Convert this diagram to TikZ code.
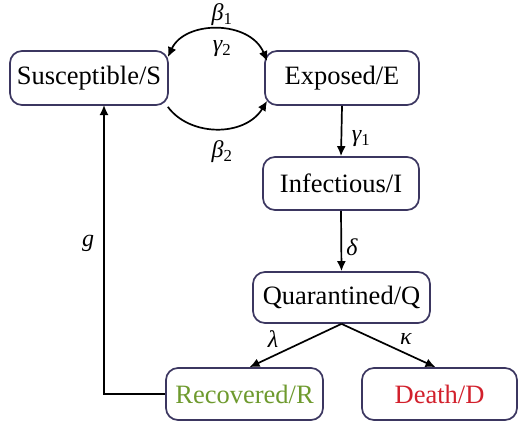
\documentclass[tikz,border=0pt]{standalone}
\usepackage{fontspec}
\setmainfont{Liberation Serif}
\usetikzlibrary{arrows.meta,calc}
\definecolor{boxline}{HTML}{3B3660}
\definecolor{recgreen}{HTML}{6E9A2E}
\definecolor{deathred}{HTML}{D2202C}
\newcommand{\gsym}[2]{{\itshape #1}\textsubscript{\upshape #2}}
\begin{document}
\begin{tikzpicture}[x=1pt,y=-1pt,
  compbox/.style={draw=boxline,line width=1.7pt,rounded corners=12pt,inner sep=0pt,font=\fontsize{26.5}{29}\selectfont},
  flow/.style={line width=1.7pt,-{Latex[length=10pt,width=9pt]}},
  lab/.style={font=\fontsize{24}{26}\selectfont\itshape,inner sep=0pt}]
\useasboundingbox (0,0) rectangle (518,428);
\node[compbox,minimum width=158pt,minimum height=54pt] (S) at (89,78) {Susceptible/S};
\node[compbox,minimum width=154pt,minimum height=54pt] (E) at (342,78) {Exposed/E};
\node[compbox,minimum width=156pt,minimum height=53pt] (I) at (341,183.5) {Infectious/I};
\node[compbox,minimum width=177pt,minimum height=51pt] (Q) at (341.5,297.5) {Quarantined/Q};
\node[compbox,minimum width=157pt,minimum height=52pt,text=recgreen] (R) at (244.5,394) {Recovered/R};
\node[compbox,minimum width=155pt,minimum height=52pt,text=deathred] (D) at (439.5,394) {Death/D};
% arcs between S and E
\coordinate (s1) at ($(S.north east)+(-1,7)$);
\coordinate (e1) at ($(E.north west)+(3,11)$);
\coordinate (s2) at ($(S.south east)+(-1,1)$);
\coordinate (e2) at ($(E.south west)+(3,-5)$);
\draw[line width=1.7pt,{Latex[length=10pt,width=9pt]}-{Latex[length=10pt,width=9pt]}] (s1) .. controls (185,20) and (250,20) .. (e1);
\draw[flow] (s2) .. controls (190,137) and (245,137) .. (e2);
\node[lab] (b1) at (222,15) {\gsym{β}{1}};
\node[lab] (g2) at (222,49) {\gsym{γ}{2}};
\node[lab] (b2) at (222,152) {\gsym{β}{2}};
% vertical flows
\draw[flow] (E.south) -- (I.north);
\node[lab] (g1) at (361,139) {\gsym{γ}{1}};
\draw[flow] (I.south) -- (Q.north);
\node[lab] (dl) at (352,247) {δ};
% branch
\coordinate (R1) at ($(R.north)+(5,0)$);
\coordinate (D1) at ($(D.north)+(-4,0)$);
\draw[flow] (Q.south) -- (R1);
\draw[flow] (Q.south) -- (D1);
\node[lab] (lm) at (273,339) {λ};
\node[lab] (kp) at (406,339) {κ};
% feedback
\coordinate (c1) at (104,394);
\draw[flow] (R.west) -- (c1) -- (104,105);
\node[lab] (gg) at (88,243) {g};
\end{tikzpicture}
\end{document}
